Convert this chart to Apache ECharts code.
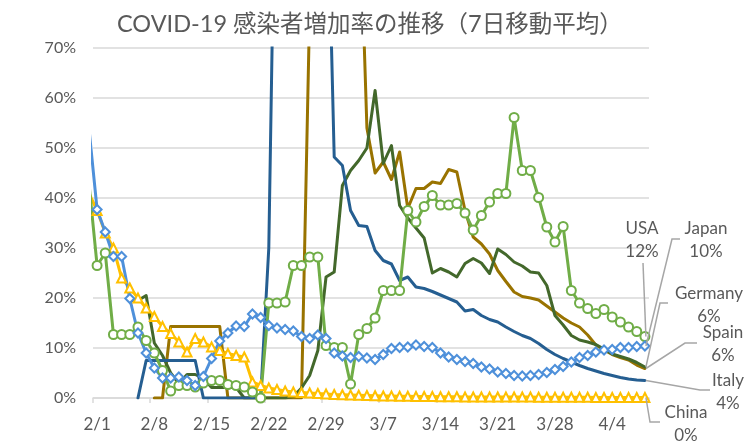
<!DOCTYPE html>
<html><head><meta charset="utf-8">
<script src="https://cdn.jsdelivr.net/npm/echarts@6/dist/echarts.min.js"></script>
<style>html,body{margin:0;padding:0;background:#fff}#c{width:750px;height:447px}</style>
</head><body><div id="c"></div>
<script>
// Category labels (one per day, 2/1 .. 4/8)
const dates = ['2/1','2/2','2/3','2/4','2/5','2/6','2/7','2/8','2/9','2/10','2/11','2/12','2/13','2/14','2/15','2/16','2/17','2/18','2/19','2/20','2/21','2/22','2/23','2/24','2/25','2/26','2/27','2/28','2/29',
'3/1','3/2','3/3','3/4','3/5','3/6','3/7','3/8','3/9','3/10','3/11','3/12','3/13','3/14','3/15','3/16','3/17','3/18','3/19','3/20','3/21','3/22','3/23','3/24','3/25','3/26','3/27','3/28','3/29','3/30','3/31',
'4/1','4/2','4/3','4/4','4/5','4/6','4/7','4/8'];
// Each series: first value is 1/31 (just left of the plot edge), then 2/1 .. 4/8 (%, 7-day moving average)
const usa = [43, 26.5,29,12.7,12.7,12.7,14.2,11.5,9,5.5,1.4, 2.5,2.5,2.2,3,3.5,3.5,2.7,2.5,2.2,1.2, 0,19,19,19.2,26.5,26.5,28.2,28.2,10.5,10.1, 10.1,2.8,12.7,13.9,16,21.5,21.5,21.5,37.5,35.2, 38.3,40.5,38.6,38.6,38.9,37,33.6,36.5,39.2,40.9, 40.9,56.1,45.5,45.5,40.1,34.2,31.2,34.3,21.5,19, 17.9,16.9,17.7,16.2,15.2,14.2,13.3,12.3];
const japan = [54, 37.7,33.2,28.3,28.3,19.9,13,9,6,4,4, 4.2,3.5,2.5,4.3,7.9,11.4,13,14.4,14.3,16.8, 16.1,14.5,14,13.7,13.4,12.3,11.9,12.6,11.9,9, 8.4,8.1,8.3,8,7.7,8.7,9.9,10.1,10.2,10.6, 10.3,10.1,9.0,8.2,7.7,7.3,6.9,6.2,5.8,5.2, 4.9,4.5,4.4,4.5,4.7,5.1,5.7,6.3,7.2,8.1, 8.5,9.2,9.6,9.7,10.1,10.1,10.3,10.4];
const germany = [null, null,null,null,null,19.5,19.5,20.5,11,8.5,5, 2.9,4.7,4.7,3.9,2.1,2.1,2.1,2.1,0,0, 0,0,0,0,0.3,2,4.5,9.5,24.2,25.2, 42.5,45.5,47.5,50,61.5,46.9,50.5,38.5,36,34, 32,25,25.9,25.2,24.2,26.9,27.9,27,24.9,29.8, 28.7,27.2,26.4,25.2,25,22.5,16.5,14.6,12.5,11.6, 11.2,10.7,9.8,8.8,8.3,7.8,7.1,6.2];
const spain = [null, null,null,null,null,null,null,null,0,0,14.3, 14.3,14.3,14.3,14.3,14.3,14.3,0,0,0,0, 0,0,0,0,0,0,78,200,260,220, 180,140,105,54,45,47.2,43.7,49.2,37.9,41.9, 41.9,43.2,42.9,45.7,45.2,37.5,32.2,30.8,28.8,25.5, 23.3,21.2,20.3,20,19.6,18.4,17.2,16,15,14.2, 12.6,10.6,9.6,8.7,8.1,7.6,6.6,5.9];
const italy = [null, null,null,null,null,null,0,7.5,7.5,7.5,7.5, 7.5,7.5,7.5,0,0,0,0,0,0,0, 0,30,130,250,220,190,160,140,115,48.2, 46.5,37.5,34.5,34.3,29.5,27.5,26.8,23.5,24.2,22.2, 21.9,21.3,20.6,19.9,19.2,17.4,17.7,16.5,15.7,15.2, 14.2,13.3,12.5,11.9,10.9,9.7,8.7,7.9,7.2,6.5, 5.9,5.4,4.9,4.5,4.1,3.8,3.6,3.5];
const china = [41, 37.5,33,30,24,22,20,18,16.3,14.3,12.9, 11.2,9.2,11.9,11.2,10.2,9.5,8.9,8.5,8.2,3.2, 2.5,2.0,1.7,1.4,1.2,1.1,1.0,0.9,0.8,0.7, 0.65,0.6,0.55,0.5,0.45,0.4,0.4,0.35,0.35,0.3, 0.3,0.3,0.25,0.25,0.25,0.2,0.2,0.2,0.2,0.2, 0.2,0.2,0.2,0.2,0.15,0.15,0.15,0.15,0.15,0.15, 0.15,0.1,0.1,0.1,0.1,0.1,0.1,0.1];
const yTicks = [0,10,20,30,40,50,60,70];
const titleText = 'COVID-19 感染者増加率の推移（7日移動平均）';

const FONT = "Lato, 'Noto Sans CJK JP', sans-serif";
const GRAY = '#595959';
const GRID = '#D9D9D9';

function toXY(arr) { return arr.map((v, k) => [k - 1, v]); }

function mk(name, arr, color, symbol, size) {
  const s = {
    name, type: 'line', xAxisIndex: 1, yAxisIndex: 0,
    data: toXY(arr), connectNulls: false, clip: true,
    lineStyle: { color, width: 3, join: 'round', cap: 'round' },
    itemStyle: { color: '#fff', borderColor: color, borderWidth: 2 },
    emphasis: { disabled: true }
  };
  if (symbol) {
    s.symbol = symbol; s.symbolSize = size; s.showSymbol = true; s.showAllSymbol = true;
  } else {
    s.symbol = 'none'; s.showSymbol = false;
  }
  return s;
}

const chart = echarts.init(document.getElementById('c'), null, { renderer: 'canvas' });
chart.setOption({
  animation: false,
  backgroundColor: '#fff',
  title: { text: titleText, left: 112, top: 8,
    textStyle: { fontFamily: FONT, fontSize: 23.5, fontWeight: 'normal', color: GRAY } },
  grid: { left: 93, right: 101, top: 48, bottom: 49, containLabel: false },
  xAxis: [
    { type: 'category', data: dates, boundaryGap: true, position: 'bottom',
      axisLine: { show: true, lineStyle: { color: GRID, width: 1.5 } },
      axisTick: { show: true, interval: 6, length: 5, lineStyle: { color: GRID, width: 1.5 } },
      axisLabel: { interval: 6, margin: 18, color: GRAY, fontFamily: FONT, fontSize: 17 },
      splitLine: { show: false } },
    { type: 'value', min: -0.5, max: 67.5, show: false, position: 'bottom', splitLine: { show: false } }
  ],
  yAxis: { type: 'value', min: yTicks[0], max: yTicks[yTicks.length - 1], interval: 10,
    axisLine: { show: false }, axisTick: { show: false },
    axisLabel: { formatter: '{value}%', margin: 17, color: GRAY, fontFamily: FONT, fontSize: 16 },
    splitLine: { lineStyle: { color: GRID, width: 1.5 } } },
  series: [
    mk('China', china, '#FFC000', 'triangle', 9),
    mk('Spain', spain, '#997300'),
    mk('Germany', germany, '#43682B'),
    mk('Italy', italy, '#255E91'),
    mk('USA', usa, '#70AD47', 'circle', 9),
    mk('Japan', japan, '#4E90DA', 'diamond', 9)
  ]
});

// End labels with leader lines (anchored to each series' last point through the axes)
const ends = [
  { name: 'USA', arr: usa, tx: 642, ty: 240, path: [[643, 263]] },
  { name: 'Japan', arr: japan, tx: 706, ty: 240, path: [[680, 239], [672, 239]] },
  { name: 'Germany', arr: germany, tx: 709, ty: 305, path: [[668, 303], [660, 303]] },
  { name: 'Spain', arr: spain, tx: 723, ty: 344, path: [[697, 343], [685, 343]] },
  { name: 'Italy', arr: italy, tx: 728, ty: 392, path: [[710, 390], [700, 390]] },
  { name: 'China', arr: china, tx: 686, ty: 424, path: [[660, 422], [650, 422]] }
];
const g = [];
ends.forEach(e => {
  const last = e.arr[e.arr.length - 1];
  const p = chart.convertToPixel({ xAxisIndex: 1, yAxisIndex: 0 }, [e.arr.length - 2, last]);
  g.push({ type: 'polyline', silent: true, z: 100,
    shape: { points: e.path.concat([[p[0] + 1, p[1]]]) },
    style: { stroke: '#A6A6A6', lineWidth: 1.5, fill: null } });
  g.push({ type: 'text', silent: true, z: 101, x: e.tx, y: e.ty,
    style: { text: e.name + '\n' + Math.round(last) + '%', fill: GRAY, font: '17px ' + FONT,
      align: 'center', verticalAlign: 'middle', lineHeight: 22.5 } });
});
chart.setOption({ graphic: g });
</script>
</body></html>
